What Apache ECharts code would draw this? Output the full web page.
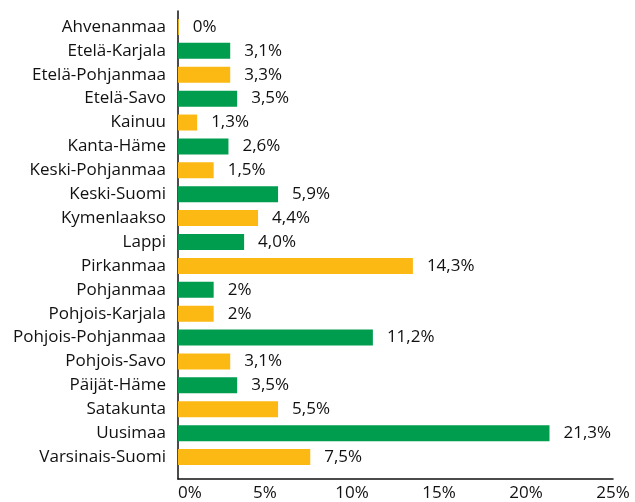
<!DOCTYPE html>
<html lang="fi">

<head>
    <meta charset="utf-8">
    <title>Osuus maakunnittain</title>
    <style>
        * {
            margin: 0;
            padding: 0;
        }

        #chart-container {
            width: 635px;
            height: 502px;
            overflow: hidden;
        }
    </style>
</head>

<body>
    <div id="chart-container"></div>
    <script src="https://cdn.jsdelivr.net/npm/echarts@6/dist/echarts.min.js"></script>
    <script>
        // maakunnat ylhäältä alas
        var regions = ['Ahvenanmaa', 'Etelä-Karjala', 'Etelä-Pohjanmaa', 'Etelä-Savo', 'Kainuu',
            'Kanta-Häme', 'Keski-Pohjanmaa', 'Keski-Suomi', 'Kymenlaakso', 'Lappi', 'Pirkanmaa',
            'Pohjanmaa', 'Pohjois-Karjala', 'Pohjois-Pohjanmaa', 'Pohjois-Savo', 'Päijät-Häme',
            'Satakunta', 'Uusimaa', 'Varsinais-Suomi'];
        // palkkien pituudet (%) kuvasta luettuna
        var values = [0.05, 3.0, 3.0, 3.4, 1.1, 2.9, 2.05, 5.75, 4.6, 3.8, 13.5,
            2.05, 2.05, 11.2, 3.0, 3.4, 5.75, 21.35, 7.6];
        // arvotekstit
        var valueLabels = ['0%', '3,1%', '3,3%', '3,5%', '1,3%', '2,6%', '1,5%', '5,9%', '4,4%',
            '4,0%', '14,3%', '2%', '2%', '11,2%', '3,1%', '3,5%', '5,5%', '21,3%', '7,5%'];
        var xTicks = [0, 5, 10, 15, 20, 25];

        var yellow = '#fdb913';
        var green = '#009d4f';
        var font = 'Open Sans';

        var dom = document.getElementById('chart-container');
        var myChart = echarts.init(dom, null, { renderer: 'canvas' });

        var option = {
            animation: false,
            textStyle: { fontFamily: font },
            grid: [
                // akselikehys
                { left: 178, right: 22, top: 11, bottom: 19 },
                // palkit
                { left: 178, right: 22, top: 15, bottom: 33 }
            ],
            xAxis: [
                {
                    gridIndex: 0,
                    type: 'value',
                    min: xTicks[0],
                    max: xTicks[xTicks.length - 1],
                    interval: 5,
                    axisLine: { show: true, onZero: false, lineStyle: { color: '#111', width: 1.5 } },
                    axisTick: { show: false },
                    splitLine: { show: false },
                    axisLabel: {
                        formatter: '{value}%',
                        color: '#111',
                        fontSize: 17,
                        fontFamily: font,
                        margin: 6,
                        alignMinLabel: 'left'
                    }
                },
                {
                    gridIndex: 1,
                    type: 'value',
                    min: 0,
                    max: 25,
                    show: false
                }
            ],
            yAxis: [
                {
                    gridIndex: 0,
                    type: 'value',
                    min: 0,
                    max: 1,
                    axisLine: { show: true, lineStyle: { color: '#111', width: 1.5 } },
                    axisTick: { show: false },
                    axisLabel: { show: false },
                    splitLine: { show: false }
                },
                {
                    gridIndex: 1,
                    type: 'category',
                    inverse: true,
                    data: regions,
                    axisLine: { show: false },
                    axisTick: { show: false },
                    axisLabel: {
                        color: '#111',
                        fontSize: 17,
                        fontFamily: font,
                        margin: 12
                    }
                }
            ],
            series: [
                {
                    type: 'bar',
                    xAxisIndex: 1,
                    yAxisIndex: 1,
                    barWidth: 16,
                    data: values.map(function (v, i) {
                        return { value: v, itemStyle: { color: i % 2 === 0 ? yellow : green } };
                    }),
                    label: {
                        show: true,
                        position: 'right',
                        distance: 14,
                        color: '#111',
                        fontSize: 17,
                        fontFamily: font,
                        formatter: function (p) {
                            return valueLabels[p.dataIndex];
                        }
                    }
                }
            ]
        };

        myChart.setOption(option);
        window.addEventListener('resize', myChart.resize);
    </script>
</body>

</html>
